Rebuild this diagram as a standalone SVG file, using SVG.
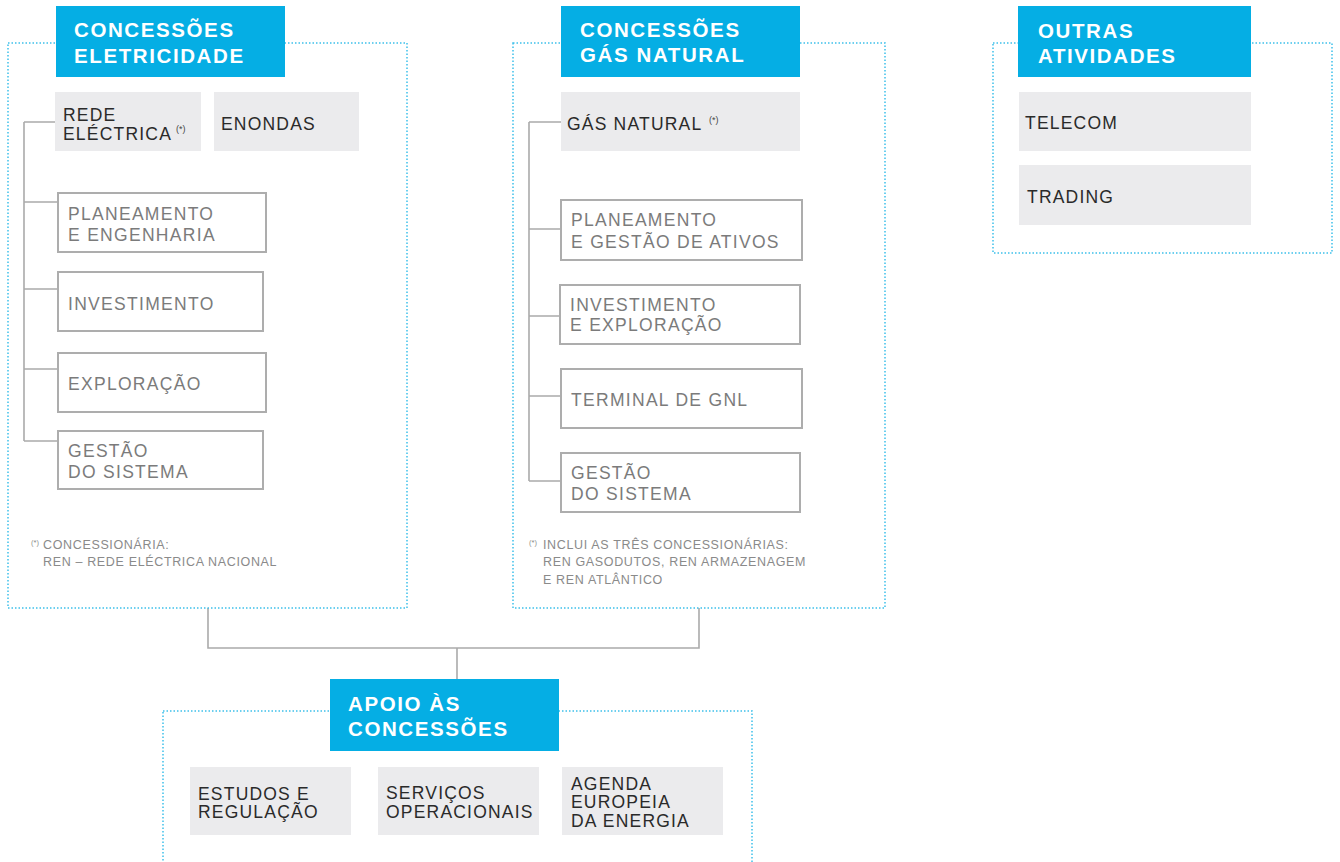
<svg xmlns="http://www.w3.org/2000/svg" width="1340" height="862" viewBox="0 0 1340 862">
<style>
.panel{fill:none;stroke:#3cc0ea;stroke-width:1.5;stroke-dasharray:1.5 2}
.hdr{fill:#05aee4}
.ht{font-family:"Liberation Sans",Arial,sans-serif;font-weight:bold;font-size:20.5px;fill:#fff;letter-spacing:1.6px}
.gb{fill:#ebebed}
.ob{fill:#fff;stroke:#adadad;stroke-width:2}
.gt{font-family:"Liberation Sans",Arial,sans-serif;font-size:17.5px;fill:#2a2a2a;letter-spacing:1.2px}
.ot{font-family:"Liberation Sans",Arial,sans-serif;font-size:17.5px;fill:#7b7b7b;letter-spacing:1.3px}
.sup{font-family:"Liberation Sans",Arial,sans-serif;font-size:9px;fill:#444}
.fn{font-family:"Liberation Sans",Arial,sans-serif;font-size:12.5px;fill:#8a8a8a;letter-spacing:0.65px}
.fs{font-family:"Liberation Sans",Arial,sans-serif;font-size:7.5px;fill:#8a8a8a}
.con{fill:none;stroke:#aaaaaa;stroke-width:1.6}
</style>
<g id="connectors">
<path class="con" d="M24 122V441M24 122H55M24 202H58M24 289H58M24 369H58M24 441H58"/>
<path class="con" d="M529 122V481M529 122H561M529 229H561M529 316H560M529 396H561M529 481H561"/>
<path class="con" d="M208 608V648H699V608M457 648V679"/>
</g>
<g id="panel-eletricidade">
<rect class="panel" x="8" y="43" width="399" height="565"/>
<rect class="hdr" x="56" y="6" width="229" height="71"/>
<text class="ht" x="74" y="37">CONCESSÕES</text>
<text class="ht" x="74" y="63">ELETRICIDADE</text>
</g>
<g id="rede-electrica"><rect class="gb" x="55" y="92" width="146" height="59"/>
<text class="gt" x="63" y="121">REDE</text><text class="gt" x="63" y="140">ELÉCTRICA</text><text class="sup" x="176" y="132">(*)</text></g>
<g id="enondas"><rect class="gb" x="214" y="92" width="145" height="59"/><text class="gt" x="221" y="130">ENONDAS</text></g>
<g id="planeamento-eng"><rect class="ob" x="58" y="193" width="208" height="59"/><text class="ot" x="68" y="220">PLANEAMENTO</text><text class="ot" x="68" y="241">E ENGENHARIA</text></g>
<g id="investimento"><rect class="ob" x="58" y="272" width="205" height="59"/><text class="ot" x="68" y="310">INVESTIMENTO</text></g>
<g id="exploracao"><rect class="ob" x="58" y="353" width="208" height="59"/><text class="ot" x="68" y="390">EXPLORAÇÃO</text></g>
<g id="gestao-e"><rect class="ob" x="58" y="431" width="205" height="58"/><text class="ot" x="68" y="457">GESTÃO</text><text class="ot" x="68" y="478">DO SISTEMA</text></g>
<g id="fn-e"><text class="fs" x="31" y="545">(*)</text><text class="fn" x="43" y="549">CONCESSIONÁRIA:</text><text class="fn" x="43" y="566">REN – REDE ELÉCTRICA NACIONAL</text></g>

<g id="panel-gas">
<rect class="panel" x="513" y="43" width="372" height="565"/>
<rect class="hdr" x="561" y="6" width="239" height="71"/>
<text class="ht" x="580" y="37">CONCESSÕES</text>
<text class="ht" x="580" y="62">GÁS NATURAL</text>
</g>
<g id="gas-natural"><rect class="gb" x="561" y="92" width="239" height="59"/><text class="gt" x="567" y="130">GÁS NATURAL</text><text class="sup" x="709" y="123">(*)</text></g>
<g id="planeamento-gas"><rect class="ob" x="561" y="200" width="241" height="60"/><text class="ot" x="571" y="226">PLANEAMENTO</text><text class="ot" x="571" y="248">E GESTÃO DE ATIVOS</text></g>
<g id="invest-expl"><rect class="ob" x="560" y="285" width="240" height="59"/><text class="ot" x="570" y="311">INVESTIMENTO</text><text class="ot" x="570" y="331">E EXPLORAÇÃO</text></g>
<g id="terminal-gnl"><rect class="ob" x="561" y="369" width="241" height="59"/><text class="ot" x="571" y="406">TERMINAL DE GNL</text></g>
<g id="gestao-g"><rect class="ob" x="561" y="453" width="239" height="59"/><text class="ot" x="571" y="479">GESTÃO</text><text class="ot" x="571" y="500">DO SISTEMA</text></g>
<g id="fn-g"><text class="fs" x="529" y="545">(*)</text><text class="fn" x="543" y="549">INCLUI AS TRÊS CONCESSIONÁRIAS:</text><text class="fn" x="543" y="566">REN GASODUTOS, REN ARMAZENAGEM</text><text class="fn" x="543" y="584">E REN ATLÂNTICO</text></g>

<g id="panel-outras">
<rect class="panel" x="993" y="43" width="339" height="210"/>
<rect class="hdr" x="1018" y="6" width="233" height="71"/>
<text class="ht" x="1038" y="38">OUTRAS</text>
<text class="ht" x="1038" y="63">ATIVIDADES</text>
</g>
<g id="telecom"><rect class="gb" x="1019" y="92" width="232" height="59"/><text class="gt" x="1025" y="129">TELECOM</text></g>
<g id="trading"><rect class="gb" x="1019" y="165" width="232" height="60"/><text class="gt" x="1027" y="203">TRADING</text></g>

<g id="panel-apoio">
<rect class="panel" x="163" y="711" width="589" height="170"/>
<rect class="hdr" x="330" y="679" width="229" height="72"/>
<text class="ht" x="348" y="711">APOIO ÀS</text>
<text class="ht" x="348" y="736">CONCESSÕES</text>
</g>
<g id="estudos"><rect class="gb" x="190" y="767" width="161" height="68"/><text class="gt" x="198" y="800">ESTUDOS E</text><text class="gt" x="198" y="818">REGULAÇÃO</text></g>
<g id="servicos"><rect class="gb" x="378" y="767" width="161" height="68"/><text class="gt" x="386" y="799">SERVIÇOS</text><text class="gt" x="386" y="818">OPERACIONAIS</text></g>
<g id="agenda"><rect class="gb" x="562" y="767" width="161" height="68"/><text class="gt" x="571" y="790">AGENDA</text><text class="gt" x="571" y="808">EUROPEIA</text><text class="gt" x="571" y="827">DA ENERGIA</text></g>
</svg>
